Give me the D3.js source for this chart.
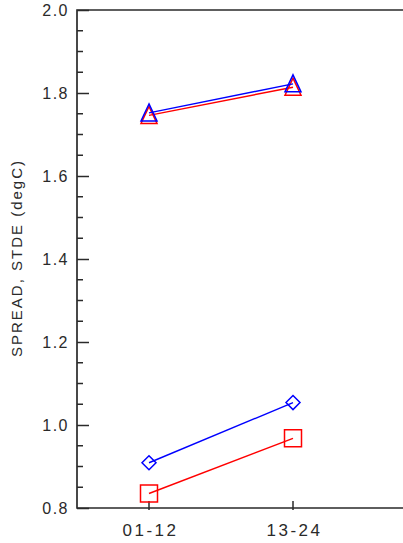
<!DOCTYPE html>
<html><head><meta charset="utf-8">
<script src="https://cdn.jsdelivr.net/npm/d3@7"></script>
<style>body{margin:0;background:#fff}svg{display:block}</style>
</head><body>
<script>
const categories = ["01-12", "13-24"];
const spreadTri = [1.752, 1.822];   // blue triangles
const stdeTri   = [1.746, 1.814];   // red triangles
const spreadDia = [0.909, 1.054];   // blue diamonds
const stdeSq    = [0.835, 0.968];   // red squares
const yTicks = [0.8, 1.0, 1.2, 1.4, 1.6, 1.8, 2.0];
const yLabel = "SPREAD, STDE (degC)";

(function () {
const W = 403, H = 543;
const svg = d3.select("body").append("svg").attr("width", W).attr("height", H);
const mLeft = 77, mTop = 10, mBottom = 508, mRight = 430;

const x = d3.scaleLinear().domain([0.5, 3.5]).range([mLeft, mLeft + 3 * 144]);
const y = d3.scaleLinear().domain([0.8, 2.0]).range([mBottom, mTop]);

const font = "'Liberation Sans', Arial, sans-serif";
const ink = "#2a2a2a";

// frame
svg.append("path")
  .attr("d", `M${mRight},${mTop}H${mLeft}V${mBottom}H${mRight}`)
  .attr("fill", "none").attr("stroke", ink).attr("stroke-width", 1.7);

// y axis
const yAxis = d3.axisLeft(y).tickValues(yTicks).tickSize(-12).tickPadding(0)
  .tickFormat(d3.format(".1f"));
const ga = svg.append("g").attr("transform", `translate(${mLeft},0)`).call(yAxis);
ga.select(".domain").remove();
ga.selectAll(".tick line").attr("stroke", ink).attr("stroke-width", 1.5);
ga.selectAll(".tick text").attr("font-family", font).attr("font-size", 16)
  .attr("letter-spacing", "1.5px")
  .attr("fill", ink).attr("x", -8).attr("dy", "0.36em");
// minor ticks
const minors = d3.range(0.85, 2.0, 0.05).filter(v => Math.abs(v * 5 - Math.round(v * 5)) > 1e-6);
svg.append("g").selectAll("line").data(minors).join("line")
  .attr("x1", mLeft).attr("x2", mLeft + 6)
  .attr("y1", d => y(d)).attr("y2", d => y(d))
  .attr("stroke", ink).attr("stroke-width", 1.5);

// x axis ticks
const xs = categories.map((c, i) => i + 1);
svg.append("g").selectAll("line").data(xs).join("line")
  .attr("x1", d => x(d)).attr("x2", d => x(d))
  .attr("y1", mBottom + 2).attr("y2", mBottom - 7)
  .attr("stroke", ink).attr("stroke-width", 1.5);
svg.append("g").selectAll("text").data(categories).join("text")
  .attr("x", (d, i) => x(i + 1) + 1.5).attr("y", 536)
  .attr("text-anchor", "middle").attr("font-family", font).attr("font-size", 17)
  .attr("letter-spacing", "2.5px")
  .attr("fill", ink).text(d => d);

// y label
svg.append("text").attr("transform", "translate(22,258) rotate(-90)")
  .attr("text-anchor", "middle").attr("font-family", font).attr("font-size", 15)
  .attr("letter-spacing", "2px")
  .attr("fill", ink).text(yLabel);

const line = d3.line().x((d, i) => x(i + 1)).y(d => y(d));

function series(vals, color, shape) {
  svg.append("path").datum(vals).attr("d", line)
    .attr("fill", "none").attr("stroke", color).attr("stroke-width", 1.4);
  const g = svg.append("g");
  vals.forEach((v, i) => {
    const cx = x(i + 1), cy = y(v);
    let d;
    if (shape === "tri") d = `M${cx},${cy - 9}L${cx + 8},${cy + 8}L${cx - 8},${cy + 8}Z`;
    else if (shape === "dia") d = `M${cx},${cy - 7}L${cx + 7},${cy}L${cx},${cy + 7}L${cx - 7},${cy}Z`;
    else d = `M${cx - 8.5},${cy - 8.5}H${cx + 8.5}V${cy + 8.5}H${cx - 8.5}Z`;
    g.append("path").attr("d", d).attr("fill", "none").attr("stroke", color).attr("stroke-width", 1.5);
  });
}
series(stdeTri, "#ff0000", "tri");
series(spreadTri, "#0000ff", "tri");
series(stdeSq, "#ff0000", "sq");
series(spreadDia, "#0000ff", "dia");
})();
</script>
</body></html>
